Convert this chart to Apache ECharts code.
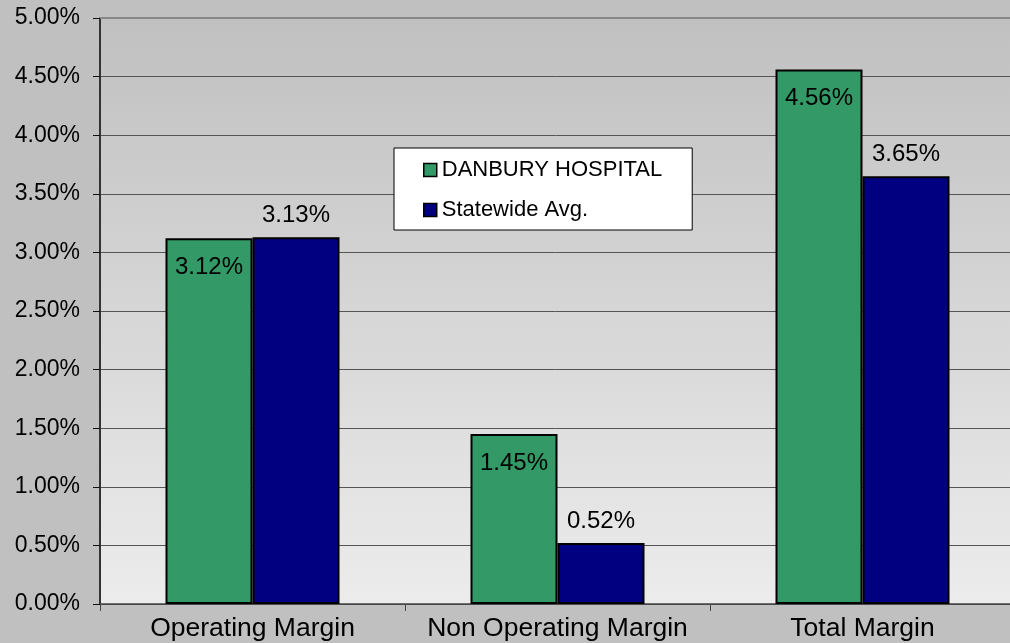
<!DOCTYPE html>
<html><head><meta charset="utf-8">
<script src="https://cdn.jsdelivr.net/npm/echarts@6/dist/echarts.min.js"></script>
<style>html,body{margin:0;padding:0;background:#c0c0c0}#c{width:1010px;height:643px}</style>
</head><body><div id="c"></div>
<script>
const categories = ['Operating Margin', 'Non Operating Margin', 'Total Margin'];
const danbury = [3.12, 1.45, 4.56];
const statewide = [3.13, 0.52, 3.65];
const yTicks = [0, 0.5, 1, 1.5, 2, 2.5, 3, 3.5, 4, 4.5, 5];
const seriesNames = ['DANBURY HOSPITAL', 'Statewide Avg.'];

const chart = echarts.init(document.getElementById('c'), null, {renderer: 'canvas'});
const font = 'Liberation Sans, Arial, sans-serif';
chart.setOption({
  backgroundColor: '#c0c0c0',
  animation: false,
  grid: {left: 100, width: 915, top: 18, bottom: 39, show: true, borderWidth: 0,
    outerBoundsMode: 'none', containLabel: false,
    backgroundColor: {type: 'linear', x: 0, y: 0, x2: 0, y2: 1,
      colorStops: [{offset: 0, color: '#c0c0c0'}, {offset: 1, color: '#ececec'}]}},
  legend: {
    orient: 'vertical', left: 394, top: 148,
    backgroundColor: '#ffffff', borderColor: '#000', borderWidth: 1,
    padding: [11, 30, 9, 29], itemGap: 18, itemWidth: 13, itemHeight: 13,
    icon: 'rect',
    itemStyle: {borderColor: '#000', borderWidth: 1.5},
    textStyle: {fontFamily: font, fontSize: 22, color: '#000', padding: [0, 0, 0, 0]},
    data: seriesNames
  },
  xAxis: [{
    type: 'category', data: categories,
    axisLine: {lineStyle: {color: '#444', width: 1.5}},
    axisTick: {show: true, length: 7, lineStyle: {color: '#444'}},
    axisLabel: {fontFamily: font, fontSize: 26.5, color: '#000', margin: 11, interval: 0, hideOverlap: false}
  }, {
    type: 'category', data: categories, position: 'top',
    axisLine: {show: true, lineStyle: {color: '#888', width: 2}},
    axisTick: {show: false}, axisLabel: {show: false}, splitLine: {show: false}
  }],
  yAxis: {
    type: 'value', min: 0, max: 5, interval: 0.5,
    axisLine: {show: true, lineStyle: {color: '#333', width: 2}},
    axisTick: {show: true, length: 7, lineStyle: {color: '#111'}},
    splitLine: {lineStyle: {color: '#555', width: 1}},
    axisLabel: {fontFamily: font, fontSize: 23, color: '#000', margin: 20,
      formatter: v => v.toFixed(2) + '%'}
  },
  series: [
    {name: seriesNames[0], type: 'bar', data: danbury, barWidth: 87, barGap: '0%',
     itemStyle: {color: '#339966', borderColor: '#000', borderWidth: 2},
     label: {show: true, position: 'insideTop', distance: 17, fontFamily: font, fontSize: 24, color: '#000',
       formatter: p => p.value.toFixed(2) + '%'}},
    {name: seriesNames[1], type: 'bar', data: statewide, barWidth: 87,
     itemStyle: {color: '#000080', borderColor: '#000', borderWidth: 2},
     label: {show: true, position: 'top', distance: 10, fontFamily: font, fontSize: 24, color: '#000',
       formatter: p => p.value.toFixed(2) + '%'}}
  ]
});
</script></body></html>
